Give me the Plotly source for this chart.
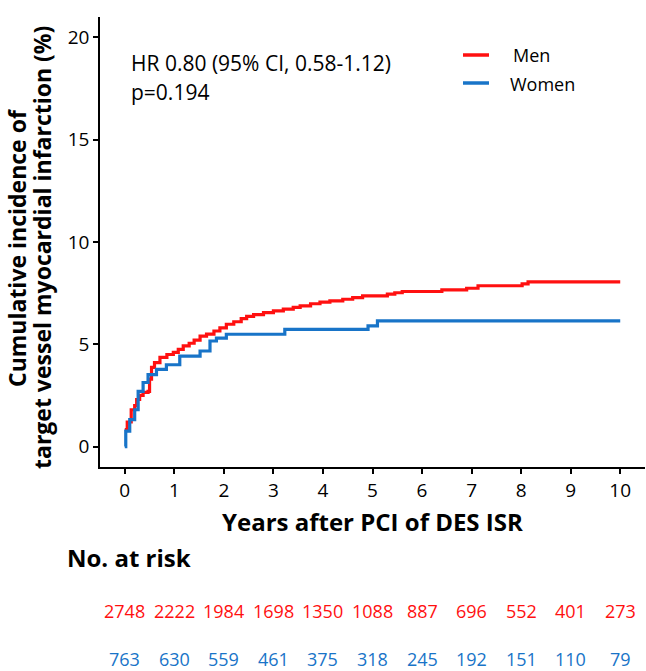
import plotly.graph_objects as go

# Data
men_t = [0, 0.05, 0.13, 0.2, 0.24, 0.3, 0.37, 0.47, 0.5, 0.54, 0.6, 0.71, 0.85, 0.98, 1.08, 1.18,
         1.3, 1.4, 1.52, 1.65, 1.8, 1.92, 2.05, 2.2, 2.35, 2.46, 2.6, 2.8, 3.0, 3.2, 3.4, 3.54,
         3.75, 3.94, 4.14, 4.4, 4.6, 4.8, 5.3, 5.45, 5.6, 6.4, 6.9, 7.13, 8.02, 8.14, 10]
men_v = [0.83, 1.2, 1.8, 2.0, 2.3, 2.5, 2.65, 2.7, 3.3, 3.87, 4.1, 4.36, 4.5, 4.6, 4.75, 4.92,
         5.05, 5.2, 5.4, 5.5, 5.65, 5.8, 5.98, 6.1, 6.25, 6.36, 6.45, 6.55, 6.63, 6.72, 6.8, 6.88,
         6.98, 7.06, 7.12, 7.2, 7.28, 7.37, 7.45, 7.52, 7.58, 7.66, 7.74, 7.86, 7.95, 8.05, 8.05]
women_t = [0, 0.02, 0.1, 0.2, 0.27, 0.37, 0.47, 0.64, 0.84, 1.11, 1.52, 1.72, 1.85, 2.05, 3.23, 4.91, 5.1, 10]
women_v = [0, 0.75, 1.32, 1.8, 2.7, 3.13, 3.52, 3.77, 4.0, 4.42, 4.67, 5.16, 5.3, 5.49, 5.73, 5.9, 6.14, 6.14]

risk_years = [0, 1, 2, 3, 4, 5, 6, 7, 8, 9, 10]
men_risk = [2748, 2222, 1984, 1698, 1350, 1088, 887, 696, 552, 401, 273]
women_risk = [763, 630, 559, 461, 375, 318, 245, 192, 151, 110, 79]

x_ticks = [0, 1, 2, 3, 4, 5, 6, 7, 8, 9, 10]
y_ticks = [0, 5, 10, 15, 20]

series_names = ["Men", "Women"]

RED = "#FF1010"
BLUE = "#1874C8"
FONT = "Open Sans"

# pixel helpers (plot area: x 100..645, y 17..467)
def px(x):
    return (x - 100) / 545

def py(y):
    return (467 - y) / 450

fig = go.Figure()
fig.add_trace(go.Scatter(x=men_t, y=men_v, mode="lines", line_shape="hv",
                         line=dict(color=RED, width=3.2), name=series_names[0], showlegend=False))
fig.add_trace(go.Scatter(x=women_t, y=women_v, mode="lines", line_shape="hv",
                         line=dict(color=BLUE, width=3.2), name=series_names[1], showlegend=False))

annotations = [
    dict(text="HR 0.80 (95% CI, 0.58-1.12)", x=px(129), y=py(63), xref="paper", yref="paper",
         xanchor="left", yanchor="middle", showarrow=False,
         font=dict(family=FONT, size=21, color="black")),
    dict(text="p=0.194", x=px(129), y=py(92), xref="paper", yref="paper",
         xanchor="left", yanchor="middle", showarrow=False,
         font=dict(family=FONT, size=21, color="black")),
    dict(text="<b>Years after PCI of DES ISR</b>", x=0.5, y=py(521), xref="paper", yref="paper",
         xanchor="center", yanchor="middle", showarrow=False,
         font=dict(family=FONT, size=24, color="black")),
    dict(text="<b>No. at risk</b>", x=px(65), y=py(557), xref="paper", yref="paper",
         xanchor="left", yanchor="middle", showarrow=False,
         font=dict(family=FONT, size=24, color="black")),
    dict(text=series_names[0], x=px(511), y=py(55), xref="paper", yref="paper",
         xanchor="left", yanchor="middle", showarrow=False,
         font=dict(family=FONT, size=18, color="black")),
    dict(text=series_names[1], x=px(508), y=py(84), xref="paper", yref="paper",
         xanchor="left", yanchor="middle", showarrow=False,
         font=dict(family=FONT, size=18, color="black")),
    dict(text="<b>Cumulative incidence of</b>", x=px(17), y=py(248), xref="paper", yref="paper",
         xanchor="center", yanchor="middle", textangle=-90, showarrow=False,
         font=dict(family=FONT, size=23, color="black")),
    dict(text="<b>target vessel myocardial infarction (%)</b>", x=px(42), y=py(248), xref="paper",
         yref="paper", xanchor="center", yanchor="middle", textangle=-90, showarrow=False,
         font=dict(family=FONT, size=23, color="black")),
]
for yr, m, w in zip(risk_years, men_risk, women_risk):
    annotations.append(dict(text=str(m), x=yr, y=py(611), xref="x", yref="paper",
                            xanchor="center", yanchor="middle", showarrow=False,
                            font=dict(family=FONT, size=18, color=RED)))
    annotations.append(dict(text=str(w), x=yr, y=py(659), xref="x", yref="paper",
                            xanchor="center", yanchor="middle", showarrow=False,
                            font=dict(family=FONT, size=18, color=BLUE)))

shapes = [
    dict(type="line", xref="paper", yref="paper", x0=px(463), x1=px(489), y0=py(55), y1=py(55),
         line=dict(color=RED, width=3.5)),
    dict(type="line", xref="paper", yref="paper", x0=px(463), x1=px(489), y0=py(83), y1=py(83),
         line=dict(color=BLUE, width=3.5)),
]

fig.update_layout(
    width=646, height=671,
    margin=dict(l=100, r=1, t=17, b=204),
    paper_bgcolor="white", plot_bgcolor="white",
    font=dict(family=FONT, size=18, color="black"),
    showlegend=False,
    annotations=annotations,
    shapes=shapes,
    xaxis=dict(range=[-0.5, 10.5], tickvals=x_ticks, ticktext=[str(v) for v in x_ticks],
               showgrid=False, zeroline=False, showline=True, linecolor="black", linewidth=1.5,
               ticks="outside", ticklen=5, tickcolor="black", tickwidth=1.5,
               tickfont=dict(family=FONT, size=19, color="black")),
    yaxis=dict(range=[-1, 21], tickvals=y_ticks, ticktext=[str(v) for v in y_ticks],
               showgrid=False, zeroline=False, showline=True, linecolor="black", linewidth=1.5,
               ticks="outside", ticklen=5, tickcolor="black", tickwidth=1.5,
               tickfont=dict(family=FONT, size=19, color="black")),
)

fig.write_html("out.html")
